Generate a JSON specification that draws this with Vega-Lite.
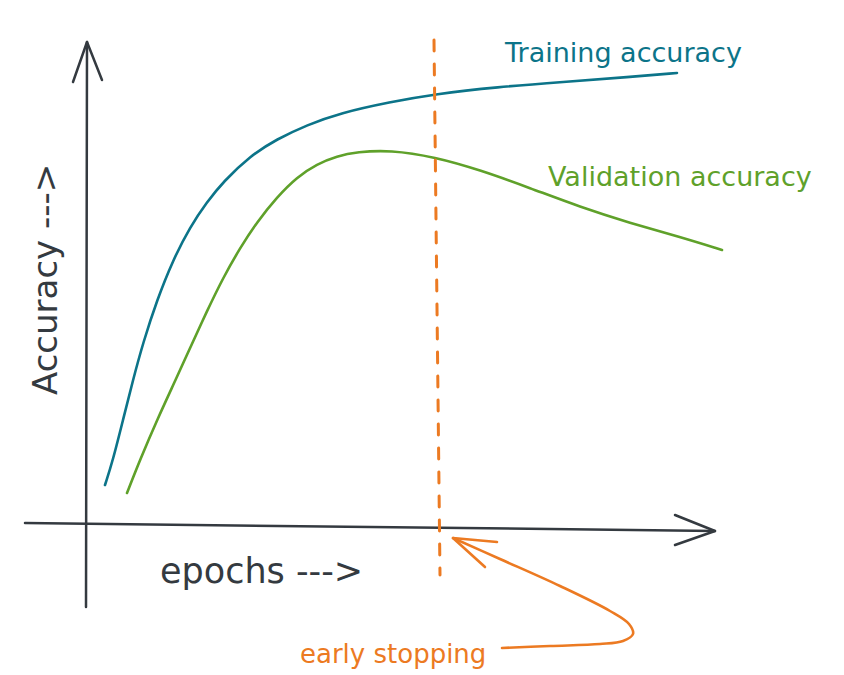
{
  "$schema": "https://vega.github.io/schema/vega-lite/v6.json",
  "width": 844,
  "height": 675,
  "autosize": {"type": "none"},
  "padding": 0,
  "background": "white",
  "config": {"view": {"stroke": null}},
  "encoding": {
    "x": {"field": "x", "type": "quantitative", "scale": {"domain": [-86, 758], "nice": false, "zero": false}, "axis": null},
    "y": {"field": "y", "type": "quantitative", "scale": {"domain": [-153, 522], "nice": false, "zero": false}, "axis": null}
  },
  "layer": [
    {
      "data": {"values": [
        {"part": "y axis", "o": 1, "x": 0, "y": -85},
        {"part": "y axis", "o": 2, "x": 1, "y": 480},
        {"part": "y head", "o": 1, "x": -13, "y": 440},
        {"part": "y head", "o": 2, "x": 1, "y": 480},
        {"part": "y head", "o": 3, "x": 16, "y": 442},
        {"part": "x axis", "o": 1, "x": -61, "y": -1},
        {"part": "x axis", "o": 2, "x": 629, "y": -9},
        {"part": "x head", "o": 1, "x": 589, "y": 7},
        {"part": "x head", "o": 2, "x": 629, "y": -9},
        {"part": "x head", "o": 3, "x": 589, "y": -23}
      ]},
      "mark": {"type": "line", "color": "#343a40", "strokeWidth": 2.5, "strokeCap": "round", "strokeJoin": "round"},
      "encoding": {"detail": {"field": "part"}, "order": {"field": "o"}}
    },
    {
      "data": {"values": [
        {"x": 19, "y": 37},
        {"x": 27, "y": 62},
        {"x": 37, "y": 102},
        {"x": 47, "y": 142},
        {"x": 57, "y": 179},
        {"x": 71, "y": 222},
        {"x": 87, "y": 262},
        {"x": 104, "y": 295},
        {"x": 121, "y": 320},
        {"x": 137, "y": 340},
        {"x": 164, "y": 366},
        {"x": 191, "y": 383},
        {"x": 221, "y": 397},
        {"x": 254, "y": 409},
        {"x": 304, "y": 420},
        {"x": 349, "y": 428},
        {"x": 411, "y": 435},
        {"x": 477, "y": 440},
        {"x": 544, "y": 445},
        {"x": 591, "y": 449}
      ]},
      "mark": {"type": "line", "color": "#0c7489", "strokeWidth": 2.6, "interpolate": "basis", "strokeCap": "round"}
    },
    {
      "data": {"values": [
        {"x": 41, "y": 29},
        {"x": 54, "y": 62},
        {"x": 71, "y": 102},
        {"x": 91, "y": 145},
        {"x": 104, "y": 174},
        {"x": 121, "y": 211},
        {"x": 137, "y": 244},
        {"x": 154, "y": 274},
        {"x": 171, "y": 300},
        {"x": 191, "y": 325},
        {"x": 211, "y": 345},
        {"x": 231, "y": 358},
        {"x": 251, "y": 366},
        {"x": 271, "y": 370},
        {"x": 304, "y": 372},
        {"x": 349, "y": 365},
        {"x": 394, "y": 352},
        {"x": 444, "y": 334},
        {"x": 494, "y": 315},
        {"x": 544, "y": 299},
        {"x": 594, "y": 285},
        {"x": 636, "y": 272}
      ]},
      "mark": {"type": "line", "color": "#5fa12a", "strokeWidth": 2.6, "interpolate": "basis", "strokeCap": "round"}
    },
    {
      "data": {"values": [
        {"o": 1, "x": 348, "y": 482},
        {"o": 2, "x": 354, "y": -53}
      ]},
      "mark": {"type": "line", "color": "#ec7a22", "strokeWidth": 3, "strokeDash": [11, 13], "strokeCap": "round"},
      "encoding": {"order": {"field": "o"}}
    },
    {
      "data": {"values": [
        {"o": 1, "x": 416, "y": -126},
        {"o": 2, "x": 464, "y": -124},
        {"o": 3, "x": 514, "y": -122},
        {"o": 4, "x": 537, "y": -119},
        {"o": 5, "x": 547, "y": -112},
        {"o": 6, "x": 543, "y": -102},
        {"o": 7, "x": 524, "y": -89},
        {"o": 8, "x": 474, "y": -64},
        {"o": 9, "x": 414, "y": -37},
        {"o": 10, "x": 367, "y": -16}
      ]},
      "mark": {"type": "line", "color": "#ec7a22", "strokeWidth": 2.6, "interpolate": "catmull-rom", "strokeCap": "round"},
      "encoding": {"order": {"field": "o"}}
    },
    {
      "data": {"values": [
        {"o": 1, "x": 411, "y": -20},
        {"o": 2, "x": 367, "y": -16},
        {"o": 3, "x": 399, "y": -45}
      ]},
      "mark": {"type": "line", "color": "#ec7a22", "strokeWidth": 2.6, "strokeCap": "round", "strokeJoin": "round"},
      "encoding": {"order": {"field": "o"}}
    },
    {
      "data": {"values": [
        {"label": "Training accuracy", "x": 419, "y": 460, "c": "#0c7489", "s": 27},
        {"label": "Validation accuracy", "x": 462, "y": 336, "c": "#5fa12a", "s": 27},
        {"label": "epochs --->", "x": 74, "y": -61, "c": "#343a40", "s": 35},
        {"label": "early stopping", "x": 214, "y": -141, "c": "#ec7a22", "s": 26}
      ]},
      "mark": {"type": "text", "align": "left", "baseline": "alphabetic", "font": "DejaVu Sans"},
      "encoding": {
        "text": {"field": "label"},
        "color": {"field": "c", "type": "nominal", "scale": null},
        "size": {"field": "s", "type": "quantitative", "scale": null}
      }
    },
    {
      "data": {"values": [
        {"label": "Accuracy --->", "x": -29, "y": 127}
      ]},
      "mark": {"type": "text", "align": "left", "baseline": "alphabetic", "font": "DejaVu Sans", "angle": 270, "fontSize": 34, "color": "#343a40"},
      "encoding": {"text": {"field": "label"}}
    }
  ]
}
